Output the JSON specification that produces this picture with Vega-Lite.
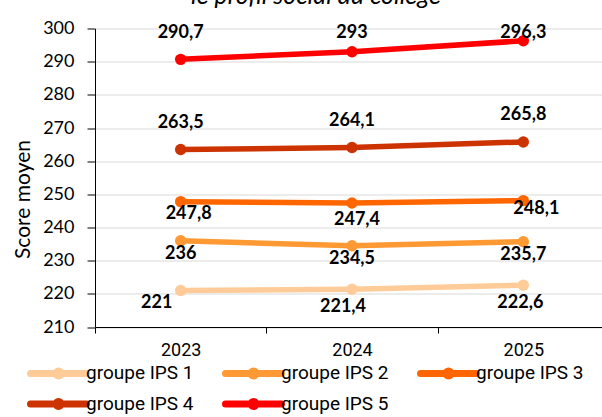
{
  "$schema": "https://vega.github.io/schema/vega-lite/v6.json",
  "autosize": {"type": "none"},
  "width": 514,
  "height": 298.5,
  "padding": {"left": 95, "top": 28.5, "right": 0, "bottom": 90},
  "title": {
    "text": "le profil social du collège",
    "font": "Lato",
    "fontStyle": "italic",
    "fontWeight": "normal",
    "fontSize": 25,
    "color": "#000000",
    "anchor": "middle",
    "frame": "group",
    "baseline": "bottom",
    "offset": 0,
    "dx": -36,
    "dy": 14
  },
  "data": {
    "values": [
      {"groupe": "groupe IPS 1", "annee": "2023", "score": 221},
      {"groupe": "groupe IPS 1", "annee": "2024", "score": 221.4},
      {"groupe": "groupe IPS 1", "annee": "2025", "score": 222.6},
      {"groupe": "groupe IPS 2", "annee": "2023", "score": 236},
      {"groupe": "groupe IPS 2", "annee": "2024", "score": 234.5},
      {"groupe": "groupe IPS 2", "annee": "2025", "score": 235.7},
      {"groupe": "groupe IPS 3", "annee": "2023", "score": 247.8},
      {"groupe": "groupe IPS 3", "annee": "2024", "score": 247.4},
      {"groupe": "groupe IPS 3", "annee": "2025", "score": 248.1},
      {"groupe": "groupe IPS 4", "annee": "2023", "score": 263.5},
      {"groupe": "groupe IPS 4", "annee": "2024", "score": 264.1},
      {"groupe": "groupe IPS 4", "annee": "2025", "score": 265.8},
      {"groupe": "groupe IPS 5", "annee": "2023", "score": 290.7},
      {"groupe": "groupe IPS 5", "annee": "2024", "score": 293},
      {"groupe": "groupe IPS 5", "annee": "2025", "score": 296.3}
    ]
  },
  "encoding": {
    "x": {
      "field": "annee",
      "type": "ordinal",
      "scale": {"type": "band", "paddingInner": 0, "paddingOuter": 0},
      "axis": {
        "title": null,
        "labelAngle": 0,
        "labelFont": "Roboto",
        "labelFontSize": 18,
        "labelColor": "#000000",
        "labelPadding": 8,
        "tickBand": "extent",
        "tickSize": 6,
        "tickColor": "#000000",
        "domainColor": "#000000",
        "grid": false
      }
    },
    "y": {
      "field": "score",
      "type": "quantitative",
      "scale": {"domain": [210, 300], "nice": false, "zero": false},
      "axis": {
        "title": "Score moyen",
        "titleFont": "Lato",
        "titleFontWeight": "normal",
        "titleFontSize": 21,
        "titleColor": "#000000",
        "titleX": -62,
        "titleY": 170.5,
        "values": [210, 220, 230, 240, 250, 260, 270, 280, 290, 300],
        "labelFont": "Lato",
        "labelFontSize": 18,
        "labelColor": "#000000",
        "labelPadding": 13,
        "tickSize": 8,
        "tickColor": "#000000",
        "domainColor": "#000000",
        "gridColor": "#d9d9d9",
        "gridWidth": 1
      }
    },
    "color": {
      "field": "groupe",
      "type": "nominal",
      "scale": {
        "domain": ["groupe IPS 1", "groupe IPS 2", "groupe IPS 3", "groupe IPS 4", "groupe IPS 5"],
        "range": ["#ffcc99", "#ff9933", "#ff6600", "#cc3300", "#ff0000"]
      },
      "legend": {
        "title": null,
        "orient": "none",
        "legendX": -68,
        "legendY": 335,
        "direction": "horizontal",
        "columns": 3,
        "columnPadding": 17,
        "rowPadding": -4,
        "symbolType": "M-1,0L8.33,0M3.25,0A0.42,0.42 0 1,1 4.09,0A0.42,0.42 0 1,1 3.25,0Z",
        "symbolSize": 144,
        "symbolStrokeWidth": 7,
        "labelFont": "Roboto",
        "labelFontSize": 19,
        "labelColor": "#000000",
        "labelOffset": 40,
        "encode": {
          "symbols": {
            "update": {
              "fill": {"scale": "color", "field": "value"},
              "stroke": {"scale": "color", "field": "value"},
              "strokeCap": {"value": "round"},
              "opacity": {"value": 1}
            }
          }
        }
      }
    }
  },
  "layer": [
    {"mark": {"type": "line", "strokeWidth": 5.5}},
    {"mark": {"type": "point", "filled": true, "size": 130, "opacity": 1}},
    {
      "transform": [{"filter": "datum.groupe === 'groupe IPS 4'"}],
      "mark": {"type": "text", "font": "Lato", "fontWeight": "bold", "fontSize": 18, "dy": -27},
      "encoding": {"text": {"field": "score", "type": "quantitative", "format": ".1~f"}, "color": {"value": "#000000"}}
    },
    {
      "transform": [{"filter": "datum.groupe === 'groupe IPS 2'"}],
      "mark": {"type": "text", "font": "Lato", "fontWeight": "bold", "fontSize": 18, "dy": 13.5},
      "encoding": {"text": {"field": "score", "type": "quantitative", "format": ".1~f"}, "color": {"value": "#000000"}}
    },
    {
      "transform": [{"filter": "datum.groupe === 'groupe IPS 5' && datum.annee === '2023'"}],
      "mark": {"type": "text", "font": "Lato", "fontWeight": "bold", "fontSize": 18, "dy": -26},
      "encoding": {"text": {"field": "score", "type": "quantitative", "format": ".1~f"}, "color": {"value": "#000000"}}
    },
    {
      "transform": [{"filter": "datum.groupe === 'groupe IPS 5' && datum.annee === '2024'"}],
      "mark": {"type": "text", "font": "Lato", "fontWeight": "bold", "fontSize": 18, "dy": -19},
      "encoding": {"text": {"field": "score", "type": "quantitative", "format": ".1~f"}, "color": {"value": "#000000"}}
    },
    {
      "transform": [{"filter": "datum.groupe === 'groupe IPS 5' && datum.annee === '2025'"}],
      "mark": {"type": "text", "font": "Lato", "fontWeight": "bold", "fontSize": 18, "dy": -8},
      "encoding": {"text": {"field": "score", "type": "quantitative", "format": ".1~f"}, "color": {"value": "#000000"}}
    },
    {
      "transform": [{"filter": "datum.groupe === 'groupe IPS 3' && datum.annee === '2023'"}],
      "mark": {"type": "text", "font": "Lato", "fontWeight": "bold", "fontSize": 18, "dx": 8, "dy": 12.5},
      "encoding": {"text": {"field": "score", "type": "quantitative", "format": ".1~f"}, "color": {"value": "#000000"}}
    },
    {
      "transform": [{"filter": "datum.groupe === 'groupe IPS 3' && datum.annee === '2024'"}],
      "mark": {"type": "text", "font": "Lato", "fontWeight": "bold", "fontSize": 18, "dx": 5, "dy": 17},
      "encoding": {"text": {"field": "score", "type": "quantitative", "format": ".1~f"}, "color": {"value": "#000000"}}
    },
    {
      "transform": [{"filter": "datum.groupe === 'groupe IPS 3' && datum.annee === '2025'"}],
      "mark": {"type": "text", "font": "Lato", "fontWeight": "bold", "fontSize": 18, "dx": 13, "dy": 8},
      "encoding": {"text": {"field": "score", "type": "quantitative", "format": ".1~f"}, "color": {"value": "#000000"}}
    },
    {
      "transform": [{"filter": "datum.groupe === 'groupe IPS 1' && datum.annee === '2023'"}],
      "mark": {"type": "text", "font": "Lato", "fontWeight": "bold", "fontSize": 18, "dx": -24, "dy": 12},
      "encoding": {"text": {"field": "score", "type": "quantitative", "format": ".1~f"}, "color": {"value": "#000000"}}
    },
    {
      "transform": [{"filter": "datum.groupe === 'groupe IPS 1' && datum.annee === '2024'"}],
      "mark": {"type": "text", "font": "Lato", "fontWeight": "bold", "fontSize": 18, "dx": -9, "dy": 17.5},
      "encoding": {"text": {"field": "score", "type": "quantitative", "format": ".1~f"}, "color": {"value": "#000000"}}
    },
    {
      "transform": [{"filter": "datum.groupe === 'groupe IPS 1' && datum.annee === '2025'"}],
      "mark": {"type": "text", "font": "Lato", "fontWeight": "bold", "fontSize": 18, "dx": -3, "dy": 18},
      "encoding": {"text": {"field": "score", "type": "quantitative", "format": ".1~f"}, "color": {"value": "#000000"}}
    }
  ],
  "config": {
    "locale": {
      "number": {"decimal": ",", "thousands": " ", "grouping": [3], "currency": ["", " €"]}
    },
    "view": {"stroke": null},
    "text": {"baseline": "middle", "align": "center"},
    "background": "#ffffff"
  }
}
